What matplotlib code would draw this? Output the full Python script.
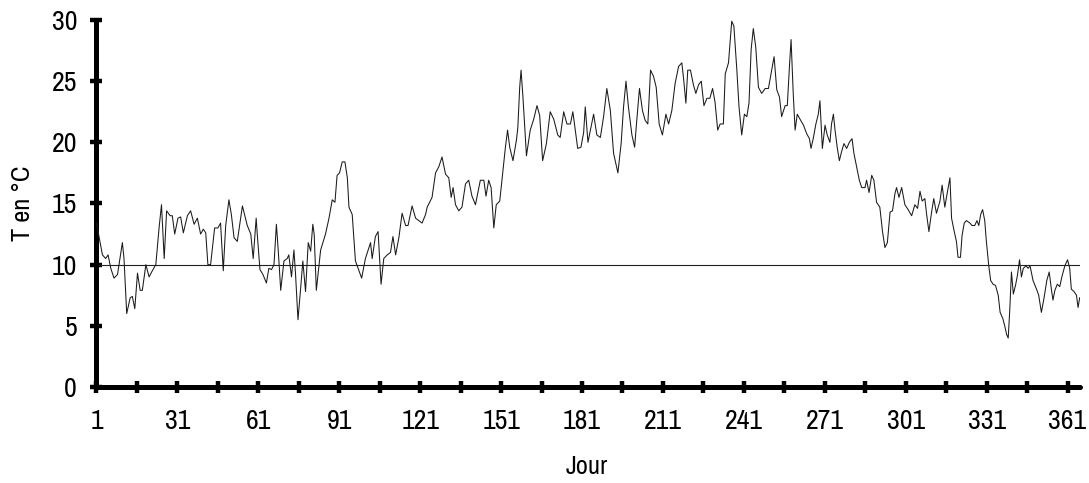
import matplotlib
matplotlib.use("Agg")
import matplotlib.pyplot as plt
from matplotlib.ticker import FixedLocator

# ---- data ----
days = [1.0, 3.2, 4.4, 5.3, 6.3, 7.5, 8.8, 10.6, 11.2, 12.2, 13.5, 14.3, 15.2, 16.2, 17.2, 18.0, 19.3, 20.5, 21.7, 23.0,
        24.2, 25.1, 26.1, 27.0, 28.3, 29.1, 30.0, 31.2, 32.2, 33.2, 34.7, 35.9, 37.2, 38.4, 39.6, 40.6, 41.5, 42.3, 43.3, 44.8,
        46.0, 47.0, 48.0, 48.9, 50.1, 51.0, 52.0, 53.2, 55.1, 55.9, 56.9, 58.2, 59.1, 60.2, 60.6, 61.6, 62.7, 64.0, 64.9, 65.9,
        66.8, 67.7, 68.4, 69.3, 70.5, 71.7, 72.3, 73.3, 74.2, 74.8, 75.7, 76.7, 77.5, 78.5, 79.5, 80.4, 81.2, 81.7, 82.5, 84.1,
        85.9, 87.2, 88.4, 89.4, 90.2, 91.1, 92.1, 93.1, 94.0, 94.6, 95.8, 97.0, 98.3, 99.3, 100.7, 102.0, 102.6, 103.2, 104.4, 105.4,
        106.5, 107.5, 108.8, 110.0, 110.9, 111.9, 113.1, 114.3, 115.6, 116.5, 118.0, 119.3, 120.5, 121.7, 123.0, 123.6, 125.4, 126.7, 127.9, 129.1,
        130.4, 131.6, 132.5, 133.2, 134.1, 135.3, 136.5, 137.8, 139.0, 140.2, 141.5, 143.3, 144.6, 145.4, 146.4, 147.3, 148.3, 149.2, 150.5, 151.7,
        152.6, 153.4, 154.2, 155.4, 156.7, 157.2, 157.9, 158.4, 159.1, 160.4, 161.8, 163.1, 164.3, 165.3, 166.4, 167.8, 169.2, 170.5, 172.0, 172.9,
        174.2, 175.4, 176.7, 177.6, 178.5, 179.4, 180.6, 181.6, 182.2, 183.2, 184.1, 185.3, 186.5, 187.8, 189.0, 190.2, 191.5, 192.7, 194.3, 195.5,
        196.4, 197.3, 198.2, 199.5, 200.5, 201.3, 202.3, 203.4, 204.4, 205.4, 206.4, 207.5, 208.5, 209.6, 210.8, 212.1, 213.1, 214.3, 215.5, 216.8,
        218.0, 218.7, 219.5, 220.2, 221.2, 222.3, 223.2, 224.2, 225.2, 226.2, 227.3, 228.4, 229.4, 230.3, 231.3, 232.2, 233.4, 234.1, 235.3, 236.5,
        237.3, 238.4, 239.2, 240.2, 241.2, 242.1, 242.9, 243.7, 244.5, 245.4, 246.4, 247.6, 248.9, 250.1, 251.3, 252.2, 253.2, 254.2, 255.0, 256.3,
        257.1, 257.9, 258.5, 259.3, 260.0, 260.8, 261.8, 263.1, 264.3, 265.3, 265.9, 266.8, 267.7, 268.6, 269.2, 270.1, 271.1, 271.9, 272.9, 273.5,
        274.2, 274.8, 275.6, 276.4, 277.3, 278.1, 279.1, 280.1, 281.1, 281.8, 282.8, 283.8, 284.7, 285.9, 286.5, 287.4, 288.4, 289.2, 290.2, 291.4,
        292.4, 293.3, 294.2, 295.2, 296.1, 297.0, 297.6, 298.5, 299.5, 300.7, 301.9, 303.2, 304.4, 305.4, 306.3, 307.1, 308.1, 308.7, 309.6, 310.6,
        311.4, 312.4, 313.7, 314.5, 315.5, 316.5, 317.4, 318.0, 319.0, 319.8, 320.4, 321.3, 321.9, 322.7, 323.5, 324.8, 325.6, 326.6, 327.4, 328.1,
        328.8, 329.5, 330.3, 330.9, 331.8, 332.5, 333.4, 334.3, 335.3, 336.0, 337.0, 337.7, 338.4, 339.0, 339.6, 340.2, 340.9, 341.7, 342.4, 343.2,
        343.9, 344.6, 345.6, 346.4, 347.1, 348.2, 349.5, 350.3, 351.3, 352.3, 353.3, 354.2, 355.0, 355.6, 356.3, 357.2, 358.1, 359.0, 360.0, 361.0,
        361.8, 362.4, 363.4, 364.3, 364.9, 365.5]

temps = [13.4, 10.8, 10.5, 10.8, 9.7, 8.9, 9.2, 11.8, 10.5, 6.0, 7.3, 7.4, 6.4, 9.3, 7.9, 7.9, 10.0, 9.0, 9.5, 10.0,
         13.0, 14.9, 10.5, 14.4, 14.0, 14.0, 12.5, 13.8, 13.9, 12.6, 14.0, 14.4, 13.3, 13.8, 12.5, 12.9, 12.6, 10.0, 10.0, 13.0,
         13.0, 13.4, 9.5, 13.2, 15.3, 14.1, 12.2, 11.9, 14.8, 14.1, 13.2, 12.5, 10.5, 13.8, 12.5, 9.6, 9.2, 8.5, 9.7, 9.6,
         10.0, 13.3, 11.1, 7.9, 10.3, 10.5, 10.8, 9.0, 11.2, 9.2, 5.5, 8.1, 10.3, 7.8, 11.8, 11.1, 13.3, 12.5, 7.9, 11.2,
         12.5, 13.8, 15.3, 15.1, 17.3, 17.5, 18.4, 18.4, 17.1, 14.7, 14.1, 10.3, 9.5, 8.9, 10.5, 11.4, 11.8, 10.5, 12.3, 12.7,
         8.4, 10.5, 10.8, 11.0, 12.3, 10.8, 12.2, 14.2, 13.2, 13.2, 14.8, 13.8, 13.6, 13.4, 14.1, 14.7, 15.5, 17.5, 18.0, 18.8,
         17.4, 17.1, 15.5, 16.3, 14.9, 14.4, 14.7, 16.6, 16.9, 15.6, 14.9, 16.9, 16.9, 15.6, 16.9, 16.3, 13.0, 14.9, 15.2, 17.7,
         19.6, 21.0, 19.6, 18.5, 20.2, 21.2, 24.5, 25.9, 23.7, 18.9, 21.0, 21.9, 23.0, 22.2, 18.5, 19.9, 22.5, 21.9, 20.6, 20.4,
         22.5, 21.5, 21.5, 22.5, 21.0, 19.5, 19.6, 20.8, 22.9, 20.0, 21.0, 22.3, 20.6, 20.4, 22.1, 24.4, 22.6, 19.1, 17.5, 19.9,
         22.9, 25.0, 22.9, 20.6, 19.6, 21.8, 24.4, 22.6, 21.8, 21.5, 25.9, 25.4, 24.5, 21.5, 20.6, 22.3, 21.5, 22.6, 24.8, 26.2,
         26.5, 25.1, 23.2, 25.9, 25.9, 24.7, 24.0, 24.7, 25.0, 23.0, 23.6, 23.6, 24.4, 23.3, 21.0, 21.5, 21.5, 25.6, 26.5, 29.9,
         29.5, 25.9, 22.9, 20.6, 22.3, 22.1, 23.2, 27.6, 29.3, 27.8, 24.5, 24.0, 24.4, 24.4, 25.9, 27.0, 24.3, 23.7, 22.1, 23.0,
         23.0, 26.2, 28.4, 24.0, 21.0, 22.3, 21.9, 21.4, 20.7, 20.3, 19.5, 20.4, 21.5, 22.3, 23.4, 19.5, 21.4, 20.6, 20.0, 21.5,
         22.3, 21.0, 19.6, 18.5, 19.3, 19.9, 19.5, 20.0, 20.3, 19.1, 18.0, 16.9, 16.3, 16.3, 16.9, 15.9, 17.3, 16.9, 15.1, 14.7,
         12.7, 11.4, 11.8, 14.3, 14.4, 15.8, 16.3, 15.5, 16.3, 14.9, 14.5, 14.0, 14.9, 14.6, 16.0, 15.2, 15.4, 14.2, 12.7, 14.3,
         15.4, 14.2, 15.2, 16.5, 14.7, 16.0, 17.1, 13.8, 12.7, 11.9, 10.6, 10.6, 12.4, 13.4, 13.6, 13.4, 13.2, 13.2, 13.6, 13.2,
         14.1, 14.5, 13.6, 11.9, 9.9, 8.7, 8.4, 8.3, 7.5, 6.1, 5.6, 5.0, 4.3, 4.0, 6.4, 9.4, 7.6, 8.3, 9.1, 10.4,
         9.0, 9.7, 9.9, 9.7, 9.9, 8.7, 8.0, 7.5, 6.1, 7.3, 8.7, 9.4, 8.0, 7.1, 7.9, 8.4, 8.2, 9.1, 9.9, 10.4,
         9.7, 8.0, 7.8, 7.5, 6.5, 7.3]

threshold = 10
y_ticks = [0, 5, 10, 15, 20, 25, 30]
x_labels = [1, 31, 61, 91, 121, 151, 181, 211, 241, 271, 301, 331, 361]
x_minor = [16, 46, 76, 106, 136, 166, 196, 226, 256, 286, 316, 346]

FONT = ["Archivo Narrow", "Liberation Sans", "DejaVu Sans"]
plt.rcParams["font.family"] = FONT

fig = plt.figure(figsize=(10.89, 4.83), dpi=100)
ax = fig.add_axes([0.0886, 0.1988, 0.9031, 0.7598])

ax.plot(days, temps, color="#1a1a1a", lw=0.75, zorder=3)
ax.axhline(threshold, color="#222222", lw=0.8, zorder=2)

ax.set_xlim(1, 365.6)
ax.set_ylim(0, 30)

for s in ["top", "right"]:
    ax.spines[s].set_visible(False)
for s in ["left", "bottom"]:
    ax.spines[s].set_linewidth(3.6)
    ax.spines[s].set_color("black")
    ax.spines[s].set_capstyle("round")

ax.set_yticks(y_ticks)
ax.set_yticklabels([str(v) for v in y_ticks])
ax.xaxis.set_major_locator(FixedLocator(x_labels))
ax.set_xticklabels([str(v) for v in x_labels])
ax.xaxis.set_minor_locator(FixedLocator(x_minor))

ax.tick_params(axis="both", which="both", direction="inout", length=8, width=3.2, color="black")
ax.tick_params(axis="x", which="major", pad=12, labelsize=20)
ax.tick_params(axis="y", which="major", pad=10, labelsize=20)

fig.text(587 / 1089, 1 - 466 / 483, "Jour", ha="center", va="center", fontsize=19)
fig.text(22 / 1089, 1 - 203 / 483, "T en °C", ha="center", va="center", rotation=90, fontsize=19)

fig.savefig("out.png", dpi=100, facecolor="white")
